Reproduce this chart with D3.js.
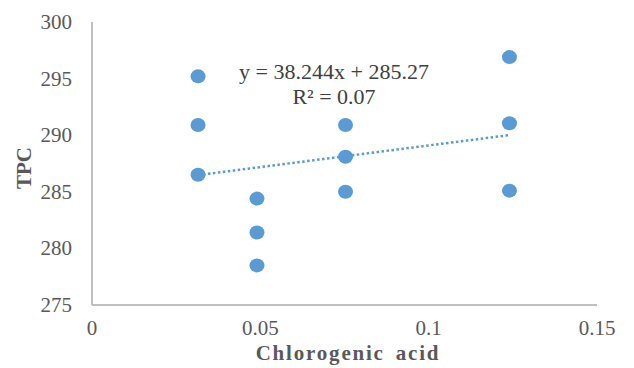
<!DOCTYPE html>
<html lang="en">
<head>
<meta charset="UTF-8">
<title>TPC vs Chlorogenic acid</title>
<style>
  body { margin: 0; background: #fff; }
  svg { display: block; font-family: "Liberation Serif", "Times New Roman", serif; }
</style>
</head>
<body>
<svg id="svg"></svg>
<script src="https://d3js.org/d3.v7.min.js"></script>
<script>
  // data
  const xValues = [0.0315, 0.0315, 0.0315, 0.049, 0.049, 0.049, 0.0753, 0.0753, 0.0753, 0.124, 0.124, 0.124];
  const yValues = [295.2, 290.9, 286.5, 284.4, 281.4, 278.5, 290.9, 288.1, 285.0, 296.9, 291.05, 285.1];
  const xTicks = [0, 0.05, 0.1, 0.15];
  const yTicks = [275, 280, 285, 290, 295, 300];
  const slope = 38.244, intercept = 285.27;
  const eqLines = ["y = 38.244x + 285.27", "R² = 0.07"];

  const width = 634, height = 368;
  const margin = {top: 22, left: 92, bottom: 63, right: 37};

  const svg = d3.select("#svg").attr("width", width).attr("height", height);

  const x = d3.scaleLinear().domain([0, 0.15]).range([margin.left, width - margin.right]);
  const y = d3.scaleLinear().domain([275, 300]).range([height - margin.bottom, margin.top]);

  const axisColor = "#bfbfbf", textColor = "#595959", dotColor = "#5b9bd5";

  // axes lines
  svg.append("line")
    .attr("x1", x(0)).attr("x2", x(0.15))
    .attr("y1", y(275)).attr("y2", y(275))
    .attr("stroke", axisColor).attr("stroke-width", 2);
  svg.append("line")
    .attr("x1", x(0)).attr("x2", x(0))
    .attr("y1", y(275)).attr("y2", y(300))
    .attr("stroke", axisColor).attr("stroke-width", 2);

  // tick labels
  svg.append("g").selectAll("text")
    .data(yTicks).join("text")
    .attr("x", x(0) - 20).attr("y", d => y(d) + 7)
    .attr("text-anchor", "end")
    .attr("font-size", 21).attr("fill", textColor)
    .text(d => d);
  svg.append("g").selectAll("text")
    .data(xTicks).join("text")
    .attr("x", d => x(d)).attr("y", y(275) + 30)
    .attr("text-anchor", "middle")
    .attr("font-size", 21).attr("fill", textColor)
    .text(d => d);

  // axis titles
  svg.append("text")
    .attr("transform", `translate(31, ${y(287.1)}) rotate(-90)`)
    .attr("text-anchor", "middle")
    .attr("font-size", 21).attr("font-weight", "bold").attr("fill", textColor)
    .text("TPC");
  svg.append("text")
    .attr("x", 348).attr("y", 360)
    .attr("text-anchor", "middle")
    .attr("font-size", 21).attr("font-weight", "bold").attr("fill", textColor)
    .attr("letter-spacing", 1.8).attr("word-spacing", 4)
    .text("Chlorogenic acid");

  // trendline
  const xMin = d3.min(xValues), xMax = d3.max(xValues);
  svg.append("line")
    .attr("x1", x(xMin)).attr("y1", y(slope * xMin + intercept))
    .attr("x2", x(xMax)).attr("y2", y(slope * xMax + intercept))
    .attr("stroke", dotColor).attr("stroke-width", 2.5)
    .attr("stroke-dasharray", "2.5 2.5");

  // points
  svg.append("g").selectAll("ellipse")
    .data(xValues.map((d, i) => [d, yValues[i]])).join("ellipse")
    .attr("cx", d => x(d[0])).attr("cy", d => y(d[1]))
    .attr("rx", 7.5).attr("ry", 7)
    .attr("fill", dotColor);

  // equation label
  svg.append("g").selectAll("text")
    .data(eqLines).join("text")
    .attr("x", 334).attr("y", (d, i) => 79 + i * 25)
    .attr("text-anchor", "middle")
    .attr("font-size", 22).attr("fill", "#404040")
    .text(d => d);
</script>
</body>
</html>
